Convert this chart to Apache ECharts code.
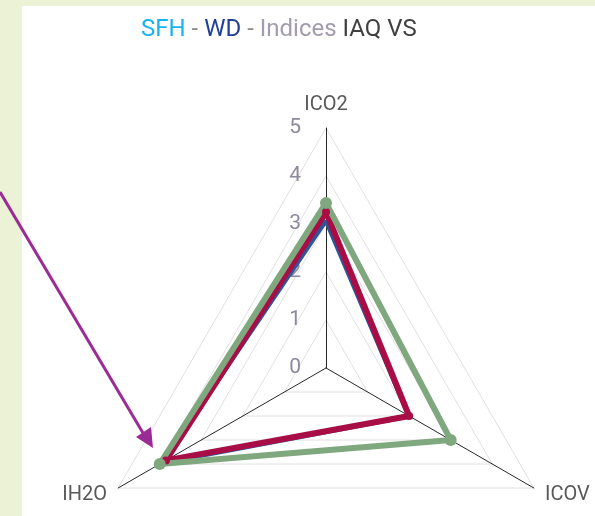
<!DOCTYPE html>
<html>
<head>
<meta charset="utf-8">
<script src="https://cdn.jsdelivr.net/npm/echarts@6/dist/echarts.min.js"></script>
<style>
  html, body { margin: 0; padding: 0; background: #ebf2d6; }
  .panel { position: absolute; left: 22px; top: 6px; width: 573px; height: 510px; background: #fff; }
  #chart { position: absolute; left: 0; top: 0; width: 595px; height: 516px; }
</style>
</head>
<body>
<div class="panel"></div>
<div id="chart"></div>
<script>
// axes of the radar (ECharts places them counter-clockwise from the top)
const indicators = ['ICO2', 'IH2O', 'ICOV'];
const axisMax = 5;

// series values
const blueVals = [3.08, 3.95, 2.0];
const redVals = [3.25, 3.85, 2.0];
const greenVals = [3.44, 4.0, 3.0];

const chart = echarts.init(document.getElementById('chart'));

const titleFont = { fontSize: 24, fontFamily: 'Roboto', fontWeight: 'normal' };

chart.setOption({
  animation: false,
  title: {
    text: '{a|SFH}{g| - }{b|WD}{g| - }{c|Indices} {d|IAQ VS}',
    left: 136,
    top: 13,
    textStyle: {
      fontFamily: 'Roboto',
      fontSize: 24,
      fontWeight: 'normal',
      rich: {
        a: Object.assign({ color: '#1ab2ef' }, titleFont),
        b: Object.assign({ color: '#1f3f9a' }, titleFont),
        c: Object.assign({ color: '#a29cae' }, titleFont),
        d: Object.assign({ color: '#404040' }, titleFont),
        g: Object.assign({ color: '#8c8c8c' }, titleFont)
      }
    }
  },
  radar: {
    center: [326, 368],
    radius: 240,
    startAngle: 90,
    shape: 'polygon',
    splitNumber: 5,
    indicator: indicators.map((name, i) => ({
      name: name,
      min: 0,
      max: axisMax,
      axisLabel: i === 0 ? {
        show: true,
        color: '#8e889c',
        fontSize: 21,
        fontFamily: 'Roboto',
        margin: 25
      } : { show: false }
    })),
    axisName: {
      color: '#595959',
      fontSize: 20,
      fontFamily: 'Roboto'
    },
    nameGap: 13,
    axisLine: { lineStyle: { color: '#262626', width: 1 } },
    splitLine: { lineStyle: { color: '#e0e0e0', width: 1 } },
    splitArea: { show: false },
    axisTick: { show: false }
  },
  series: [{
    type: 'radar',
    data: [
      {
        value: blueVals,
        name: 'blue',
        symbol: 'none',
        lineStyle: { color: '#2e5597', width: 5 },
        itemStyle: { color: '#2e5597' }
      },
      {
        value: redVals,
        name: 'red',
        symbol: 'circle',
        symbolSize: 8,
        lineStyle: { color: '#a80e45', width: 6 },
        itemStyle: { color: '#a80e45' }
      },
      {
        value: greenVals,
        name: 'green',
        symbol: 'circle',
        symbolSize: 12,
        lineStyle: { color: '#7fa87f', width: 6 },
        itemStyle: { color: '#7fa87f' }
      }
    ]
  }],
  graphic: [
    {
      type: 'line',
      shape: { x1: 0, y1: 192, x2: 143, y2: 433 },
      style: { stroke: '#9b2c96', lineWidth: 3 },
      z: 100
    },
    {
      type: 'polygon',
      shape: { points: [[153, 448], [136, 437], [151, 427]] },
      style: { fill: '#9b2c96' },
      z: 100
    }
  ]
});
</script>
</body>
</html>
